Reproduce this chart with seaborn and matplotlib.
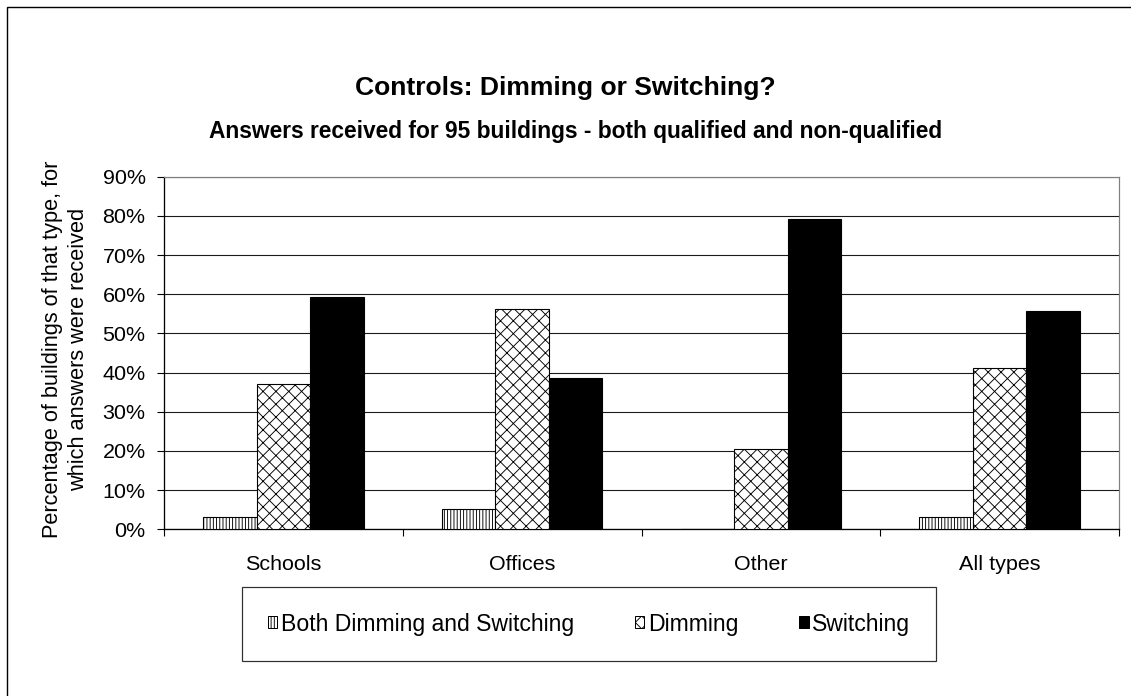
import numpy as np
import pandas as pd
import matplotlib
matplotlib.use("Agg")
import matplotlib.pyplot as plt
import seaborn as sns
from matplotlib.patches import Patch, Rectangle
from matplotlib.ticker import FixedLocator, PercentFormatter

# ---------------- data ----------------
categories = ["Schools", "Offices", "Other", "All types"]
series_names = ["Both Dimming and Switching", "Dimming", "Switching"]
both_values = [3.1, 5.3, 0.0, 3.1]
dimming_values = [37.2, 56.2, 20.5, 41.1]
switching_values = [59.3, 38.7, 79.2, 55.8]
y_ticks = [0, 10, 20, 30, 40, 50, 60, 70, 80, 90]

title = "Controls: Dimming or Switching?"
subtitle = "Answers received for 95 buildings - both qualified and non-qualified"
y_label = "Percentage of buildings of that type, for\nwhich answers were received"

# ---------------- style ----------------
DPI = 77
W, H = 1131, 696


def pt(px):
    return px * 72.0 / DPI


sns.set_theme(style="white")
plt.rcParams["font.family"] = ["Liberation Sans", "DejaVu Sans"]
plt.rcParams["hatch.linewidth"] = pt(0.9)
plt.rcParams["text.color"] = "black"

fig = plt.figure(figsize=((W + 0.01) / DPI, (H + 0.01) / DPI), dpi=DPI)
fig.patch.set_facecolor("white")

ax_l, ax_r, ax_t, ax_b = 164, 1119, 176.7, 529.3
ax = fig.add_axes([ax_l / W, 1 - ax_b / H, (ax_r - ax_l) / W, (ax_b - ax_t) / H])

df = pd.DataFrame({
    "category": categories * 3,
    "series": np.repeat(series_names, len(categories)),
    "value": both_values + dimming_values + switching_values,
})

sns.barplot(data=df, x="category", y="value", hue="series",
            order=categories, hue_order=series_names,
            palette=["white", "white", "black"], saturation=1,
            width=0.672, gap=0, dodge=True, errorbar=None, legend=False,
            edgecolor="black", linewidth=pt(1.1), ax=ax)

hatches = ["||||", "xx", ""]
for cont, h in zip(ax.containers, hatches):
    for bar in cont:
        bar.set_hatch(h)
        bar.set_zorder(3)

# axes limits / ticks
ax.set_xlim(-0.5, len(categories) - 0.5)
ax.set_ylim(0, 90)
ax.yaxis.set_major_locator(FixedLocator(y_ticks))
ax.yaxis.set_major_formatter(PercentFormatter(100, decimals=0))
ax.grid(axis="y", color="#1a1a1a", linewidth=pt(1.1))
ax.grid(axis="x", visible=False)
ax.set_axisbelow(True)

ax.tick_params(axis="y", which="major", left=True, direction="out",
               length=pt(7.5), width=pt(1.1), color="black",
               pad=pt(11), labelsize=pt(21.5), labelcolor="black")
ax.set_xticks(range(len(categories)))
ax.set_xticklabels(categories)
ax.tick_params(axis="x", which="major", length=0, pad=pt(26),
               labelsize=pt(21.5), labelcolor="black")
ax.set_xticks(np.arange(-0.5, len(categories), 1.0), minor=True)
ax.tick_params(axis="x", which="minor", bottom=True, direction="out",
               length=pt(7), width=pt(1.1), color="black")

for side in ["left", "bottom"]:
    ax.spines[side].set_color("black")
    ax.spines[side].set_linewidth(pt(1.3))
for side in ["top", "right"]:
    ax.spines[side].set_color("#808080")
    ax.spines[side].set_linewidth(pt(1.2))

ax.set_xlabel("")
ax.set_ylabel(y_label, fontsize=pt(21.8), linespacing=1.3, color="black")
ax.yaxis.set_label_coords((89 - ax_l) / (ax_r - ax_l), 0.51)

# titles
fig.text(565 / W, 1 - 88 / H, title, ha="center", va="center",
         fontsize=pt(26.5), fontweight="bold", color="black")
fig.text(576 / W, 1 - 131 / H, subtitle, ha="center", va="center",
         fontsize=pt(22.8), fontweight="bold", color="black")

# legend
handles = [
    Patch(facecolor="white", edgecolor="black", hatch="||||", linewidth=pt(1)),
    Patch(facecolor="white", edgecolor="black", hatch="xx", linewidth=pt(1)),
    Patch(facecolor="black", edgecolor="black", linewidth=pt(1)),
]
leg = fig.legend(handles, series_names, loc="center",
                 bbox_to_anchor=(589 / W, 1 - 624 / H), ncol=3,
                 frameon=True, fancybox=False, framealpha=1,
                 edgecolor="#303030", fontsize=pt(23),
                 handlelength=0.42, handleheight=0.42, handletextpad=0.15,
                 columnspacing=2.65, borderpad=1.1)
leg.get_frame().set_linewidth(pt(1.2))

# outer chart border (runs off the right and bottom of the image)
fig.add_artist(Rectangle((7 / W, -0.05), 1.2, (1 - 7 / H) + 0.05,
                         transform=fig.transFigure, fill=False,
                         edgecolor="black", linewidth=pt(1.4), clip_on=False))

fig.savefig("out.png", dpi=DPI, facecolor="white")
